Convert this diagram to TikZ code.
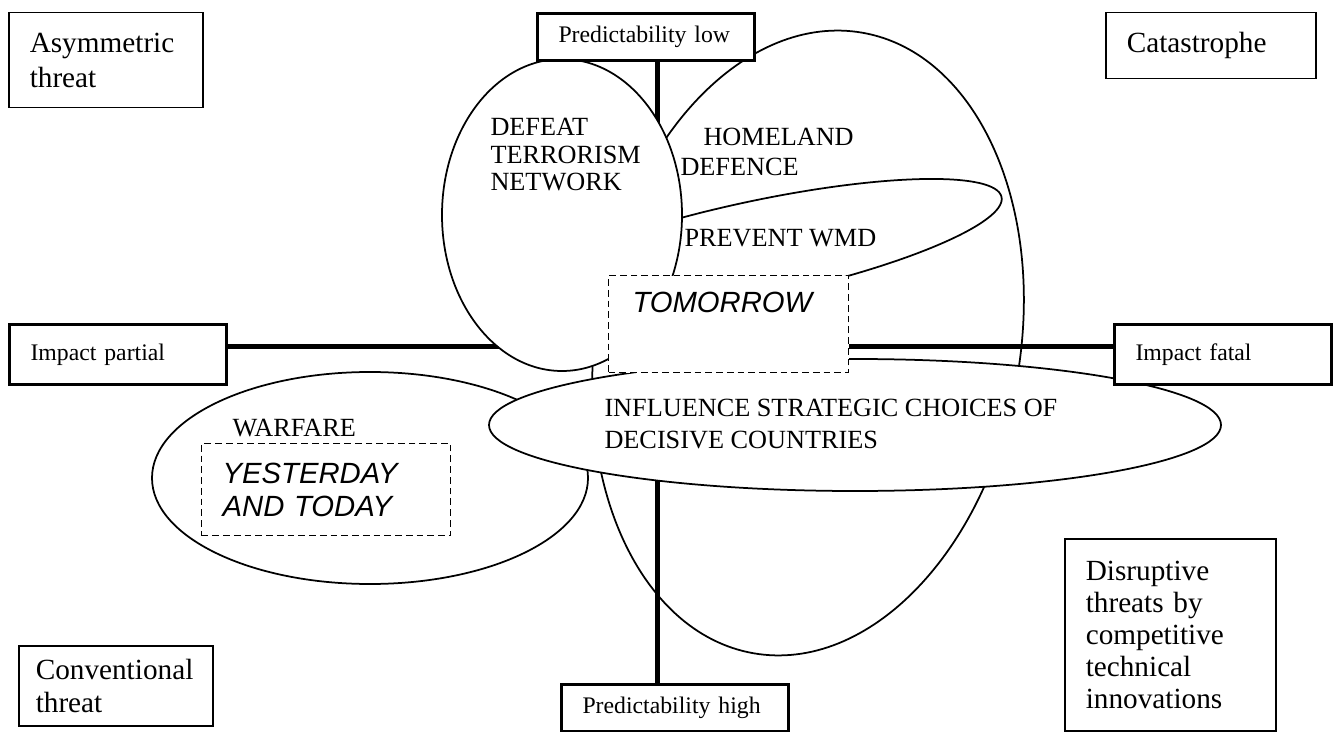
\documentclass[tikz,border=0pt]{standalone}
\usepackage{fontspec}
\setmainfont{Liberation Serif}
\newfontfamily\arialfont{Liberation Sans}

\pgfdeclarelayer{under}
\pgfdeclarelayer{axes}
\pgfsetlayers{under,axes,main}

\newcommand\fsize[2]{\fontsize{#1}{#2}\selectfont}

\tikzset{
  bubble/.style={draw, fill=white, line width=0.7pt},
  cornerbox/.style={draw, line width=0.6pt, inner xsep=8.4pt, inner ysep=0pt, align=left, anchor=north west, font=\fsize{11.7pt}{13.2pt}},
  axisbox/.style={draw, fill=white, line width=1.2pt, inner xsep=8.4pt, inner ysep=0pt, align=left, anchor=north west, font=\fsize{9.5pt}{11pt}},
  era/.style={draw, fill=white, dash pattern=on 2.7pt off 1.6pt, line width=0.5pt},
  eratext/.style={font=\arialfont\itshape\fsize{11.7pt}{13.2pt}, align=left},
  goal/.style={font=\fsize{10.5pt}{11pt}, align=left, inner sep=0pt, anchor=north west},
  axisline/.style={line width=2pt},
}

\begin{document}
\begin{tikzpicture}[x=0.4pt, y=-0.4pt]
	\useasboundingbox (0,0) rectangle (1333,732);

	% homeland defence lies under the axes
	\begin{pgfonlayer}{under}
		\draw[bubble, rotate around={-10:(808,343)}] (808,343) ellipse [x radius=212, y radius=315];
	\end{pgfonlayer}

	% the other goals, back to front
	\draw[bubble, rotate around={12:(757,249)}] (757,249) ellipse [x radius=250, y radius=48];
	\draw[bubble] (562,215) ellipse [x radius=120, y radius=156];
	\draw[bubble] (370,478) ellipse [x radius=218, y radius=106];
	\draw[bubble] (855,425) ellipse [x radius=366, y radius=66];

	% eras
	\node[era, minimum width=96pt, minimum height=38.8pt, anchor=north west] (tomorrow) at (608,275) {};
	\node[eratext, inner sep=0pt, anchor=west] (tomorrowtext) at (632,302) {TOMORROW};
	\node[era, eratext, inner xsep=8.4pt, inner ysep=0pt, text width=82.8pt, minimum height=36.8pt, anchor=north west] (yesterday) at (201,443) {YESTERDAY\\AND TODAY};

	% goal labels
	\node[goal] (defeat) at (490,118) {DEFEAT\\TERRORISM\\NETWORK};
	\node[goal, font=\fsize{10.5pt}{12pt}] (homeland) at (680,128) {\hspace{9.2pt}HOMELAND\\DEFENCE};
	\node[goal] (wmd) at (684,229) {PREVENT WMD};
	\node[goal] (warfare) at (232,419) {WARFARE};
	\node[goal, font=\fsize{10.5pt}{12.8pt}] (influence) at (604,399) {INFLUENCE STRATEGIC CHOICES OF\\DECISIVE COUNTRIES};

	% axes
	\node[axisbox, text width=70pt, minimum height=18.8pt] (plow) at (536,12) {Predictability low};
	\node[axisbox, text width=74pt, minimum height=18.8pt] (phigh) at (560,683) {Predictability high};
	\node[axisbox, text width=70pt, minimum height=24pt] (ipartial) at (8,323) {Impact partial};
	\node[axisbox, text width=70pt, minimum height=24pt] (ifatal) at (1113,323) {Impact fatal};

	\coordinate (vx) at (657,0);
	\coordinate (hy) at (0,347);
	\begin{pgfonlayer}{axes}
		\draw[axisline] (plow.south -| vx) -- (phigh.north -| vx);
		\draw[axisline] (ipartial.east |- hy) -- (ifatal.west |- hy);
	\end{pgfonlayer}

	% threat corners
	\node[cornerbox, text width=60.8pt, minimum height=38pt, font=\fsize{11.7pt}{14pt}] (asym) at (8,12) {Asymmetric\\threat};
	\node[cornerbox, text width=67.2pt, minimum height=26.4pt] (catas) at (1105,12) {Catastrophe};
	\node[cornerbox, inner xsep=6.8pt, text width=64pt, minimum height=32pt] (conv) at (18,645) {Conventional\\threat};
	\node[cornerbox, text width=67.6pt, minimum height=76.8pt, font=\fsize{11.7pt}{12.8pt}] (disr) at (1064,538) {Disruptive\\threats by\\competitive\\technical\\innovations};
\end{tikzpicture}
\end{document}
